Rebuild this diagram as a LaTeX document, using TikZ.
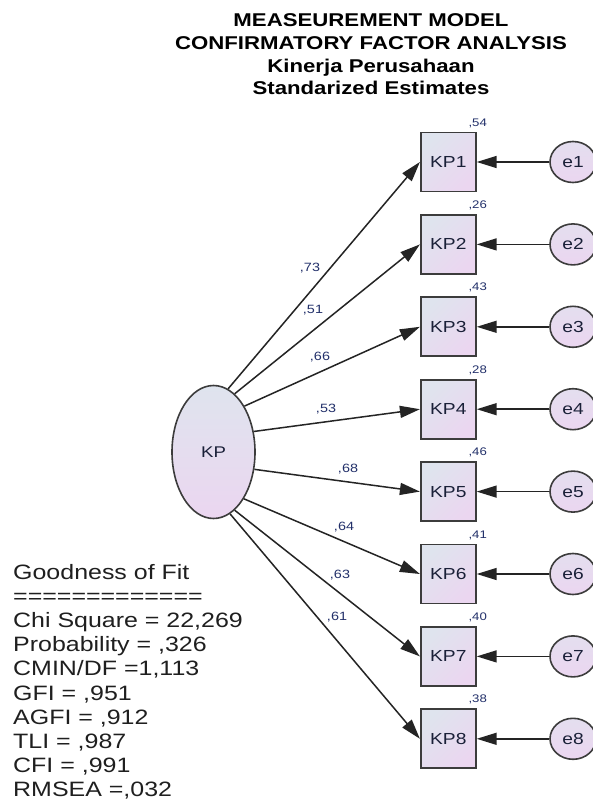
\documentclass[tikz,border=0pt]{standalone}
\usepackage{fontspec}
\setmainfont{Liberation Sans}[FakeStretch=1.2]
\usepackage{tikz}
\usetikzlibrary{shapes.geometric,arrows.meta}
\definecolor{shadeA}{HTML}{DFE4EE}
\definecolor{shadeB}{HTML}{EBD6F0}
\definecolor{rimgray}{HTML}{3C3C3C}
\definecolor{linegray}{HTML}{242424}
\definecolor{navytext}{HTML}{1A2038}
\definecolor{valtext}{HTML}{22306A}
\tikzset{
  obs/.style={draw=rimgray, line width=1.8pt, minimum width=55pt, minimum height=59pt,
    inner sep=0pt, top color=shadeA, bottom color=shadeB, shading angle=45,
    text=navytext, font=\fontsize{16}{18}\selectfont},
  lat/.style={ellipse, draw=rimgray, line width=1.6pt, minimum width=83pt, minimum height=133pt,
    inner sep=0pt, top color=shadeA, bottom color=shadeB,
    text=navytext, font=\fontsize{15.5}{18}\selectfont},
  err/.style={ellipse, draw=rimgray, line width=1.6pt, minimum width=46pt, minimum height=41pt,
    inner sep=0pt, top color=shadeA!60!shadeB, bottom color=shadeB,
    text=navytext, font=\fontsize{16}{18}\selectfont},
  load/.style={draw=linegray, line width=1.5pt, -{Triangle[length=20pt,width=12pt]}},
  val/.style={inner sep=0pt, text=valtext, font=\fontsize{12}{14}\selectfont},
  rsq/.style={inner sep=0pt, text=valtext, font=\fontsize{11}{13}\selectfont}
}
\begin{document}
\begin{tikzpicture}[x=1pt, y=-1pt]
  \useasboundingbox (0,0) rectangle (593,802);
  \clip (0,0) rectangle (593,802);
  \fill[white] (0,0) rectangle (593,802);

  \node [anchor=north, align=center, inner sep=0pt,
    font=\fontsize{18.5}{22.8}\selectfont\bfseries] (title) at (371,13.4)
    {MEASEUREMENT MODEL\\CONFIRMATORY FACTOR ANALYSIS\\Kinerja Perusahaan\\Standarized Estimates};

  \node [lat] (KP) at (213.5,452) {KP};

  % indicators, residuals and loadings
  \foreach \i/\ang/\lx/\ly/\lam/\r in {
      1/77/310/268/{,73}/{,54}, 2/70/313/310/{,51}/{,26},
      3/56/320/357/{,66}/{,43}, 4/27/326/409/{,53}/{,28},
      5/-23/348/469/{,68}/{,46}, 6/-57/344/527/{,64}/{,41},
      7/-70/340/575/{,63}/{,40}, 8/-75/337/617/{,61}/{,38}} {
    \node [obs] (KP\i) at (448.3,{162+82.4*(\i-1)}) {KP\i};
    \node [err] (e\i) at (573,{162+82.4*(\i-1)}) {e\i};
    \draw [load] (e\i) -- (KP\i);
    \draw [load] (KP.\ang) -- (KP\i.west);
    \node [val] (lam\i) at (\lx,\ly) {\lam};
    \node [rsq, anchor=base] (r\i) at ([xshift=1pt,yshift=5.5pt]KP\i.north east) {\r};
  }

  \node [anchor=north west, align=left, inner sep=0pt, text=black!88,
    font=\fontsize{20.8}{24.2}\selectfont] (fit) at (13,563.9)
    {Goodness of Fit\\=============\\Chi Square = 22,269\\Probability = ,326\\CMIN/DF =1,113\\GFI = ,951\\AGFI = ,912\\TLI = ,987\\CFI = ,991\\RMSEA =,032};
\end{tikzpicture}
\end{document}
